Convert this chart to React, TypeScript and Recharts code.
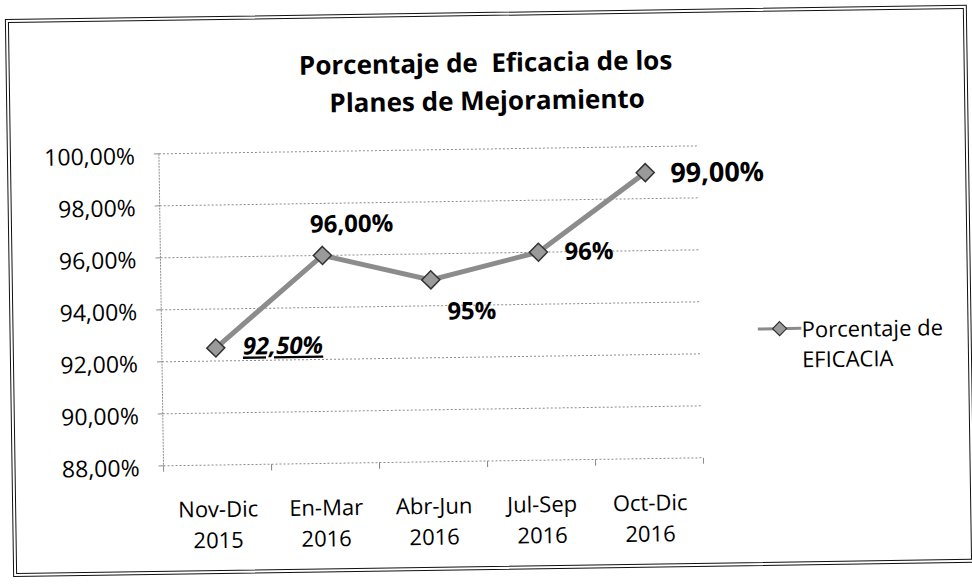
import React from 'react';
import { LineChart, Line, XAxis, YAxis, CartesianGrid, Legend, LabelList } from 'recharts';

const periods = ['Nov-Dic', 'En-Mar', 'Abr-Jun', 'Jul-Sep', 'Oct-Dic'];
const years = ['2015', '2016', '2016', '2016', '2016'];
const eficacia = [92.5, 96, 95, 96, 99];
const valueLabels = ['92,50%', '96,00%', '95%', '96%', '99,00%'];
const yTicks = [88, 90, 92, 94, 96, 98, 100];

const data = periods.map((p, i) => ({
  period: p,
  year: years[i],
  eficacia: eficacia[i],
  label: valueLabels[i],
}));

const FONT = '"Open Sans", "Noto Sans", sans-serif';
const LINE_GREY = '#8c8c8c';

// where each data label sits relative to its point (the scan places them by hand)
const labelPlacement = [
  { dx: 27, dy: 7, size: 24, italic: true, underline: true },
  { dx: -12, dy: -23, size: 24 },
  { dx: 16, dy: 40, size: 24 },
  { dx: 26, dy: 8, size: 24 },
  { dx: 25, dy: 10, size: 27 },
];

const fmtPct = (v: number) => v.toFixed(2).replace('.', ',') + '%';

const Diamond = (props: any) => {
  const { cx, cy } = props;
  if (cx == null || cy == null) return null;
  const r = 9;
  return (
    <path
      d={`M${cx},${cy - r}L${cx + r},${cy}L${cx},${cy + r}L${cx - r},${cy}Z`}
      fill="#9a9a9a"
      stroke="#333"
      strokeWidth={1.5}
    />
  );
};

const ValueLabel = (props: any) => {
  const { index, value } = props;
  const x = props.x ?? props.viewBox?.x;
  const y = props.y ?? props.viewBox?.y;
  const p = labelPlacement[index];
  if (!p || x == null) return null;
  return (
    <text
      x={x + p.dx}
      y={y + p.dy}
      fontFamily={FONT}
      fontSize={p.size}
      fontWeight={700}
      fontStyle={p.italic ? 'italic' : 'normal'}
      textDecoration={p.underline ? 'underline' : undefined}
      fill="#000"
    >
      {value}
    </text>
  );
};

const CategoryTick = (props: any) => {
  const { x, y, payload, index } = props;
  const half = payload?.offset || 54;
  return (
    <g>
      <line x1={x - half} y1={y} x2={x - half} y2={y + 6} stroke={LINE_GREY} />
      <line x1={x + half} y1={y} x2={x + half} y2={y + 6} stroke={LINE_GREY} />
      <text x={x} y={y} textAnchor="middle" fontFamily={FONT} fontSize={22} fill="#000">
        <tspan x={x} dy={52}>{periods[index]}</tspan>
        <tspan x={x} dy={31}>{years[index]}</tspan>
      </text>
    </g>
  );
};

const renderLegend = (props: any) => {
  const name = props.payload?.[0]?.value ?? '';
  return (
    <div style={{ display: 'flex', alignItems: 'flex-start', fontFamily: FONT, fontSize: 22, lineHeight: '30px', color: '#000' }}>
      <svg width={44} height={30}>
        <line x1={0} y1={15} x2={44} y2={15} stroke={LINE_GREY} strokeWidth={3} />
        <path d="M22,8L29,15L22,22L15,15Z" fill="#9a9a9a" stroke="#333" strokeWidth={1.2} />
      </svg>
      <div style={{ width: 152 }}>{name}</div>
    </div>
  );
};

export default function App() {
  return (
    <div
      style={{
        position: 'absolute',
        left: 0,
        top: 0,
        width: 972,
        height: 586,
        background: '#fff',
        transform: 'rotate(-0.85deg)',
        transformOrigin: '486px 293px',
      }}
    >
      <div
        style={{
          position: 'absolute',
          left: 9,
          top: 12,
          width: 962,
          height: 558,
          boxSizing: 'border-box',
          border: '4px double #111',
        }}
      />
      <svg width={972} height={140} style={{ position: 'absolute', left: 0, top: 0 }}>
        <text x={489} y={72} textAnchor="middle" fontFamily={FONT} fontSize={26} fontWeight={700} fill="#000">
          {'Porcentaje de\u00a0 Eficacia de los'}
        </text>
        <text x={490} y={110} textAnchor="middle" fontFamily={FONT} fontSize={26} fontWeight={700} fill="#000">
          Planes de Mejoramiento
        </text>
      </svg>
      <div style={{ position: 'absolute', left: 0, top: 0 }}>
        <LineChart width={972} height={586} data={data} margin={{ top: 149, right: 271, bottom: 37, left: 11 }}>
          <CartesianGrid vertical={false} stroke={LINE_GREY} strokeDasharray="2 2" />
          <XAxis
            dataKey="period"
            scale="band"
            height={88}
            interval={0}
            axisLine={false}
            tickLine={false}
            tickSize={0}
            tickMargin={0}
            tick={<CategoryTick />}
          />
          <YAxis
            domain={[88, 100]}
            ticks={yTicks}
            interval={0}
            width={150}
            tickFormatter={fmtPct}
            tickSize={5}
            tickMargin={19}
            axisLine={{ stroke: LINE_GREY, strokeDasharray: '2 1' }}
            tickLine={{ stroke: LINE_GREY }}
            tick={{ fontFamily: FONT, fontSize: 23, fill: '#000', dy: 2 }}
          />
          <Legend
            layout="vertical"
            align="center"
            verticalAlign="middle"
            content={renderLegend}
            wrapperStyle={{ left: 757, top: 318, width: 200 }}
          />
          <Line
            type="linear"
            dataKey="eficacia"
            name="Porcentaje de EFICACIA"
            stroke={LINE_GREY}
            strokeWidth={5}
            dot={<Diamond />}
            activeDot={false}
            isAnimationActive={false}
          >
            <LabelList dataKey="label" content={<ValueLabel />} />
          </Line>
        </LineChart>
      </div>
    </div>
  );
}
